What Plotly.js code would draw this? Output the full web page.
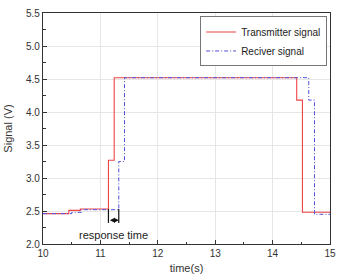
<!DOCTYPE html>
<html><head><meta charset="utf-8">
<script src="https://cdn.plot.ly/plotly-3.0.1.min.js"></script>
<style>html,body{margin:0;padding:0;background:#fff}#c{width:338px;height:274px}</style>
</head><body><div id="c"></div>
<script>
const txTime = [10, 10.45, 10.65, 11.14, 11.24, 14.42, 14.52, 15];
const txSignal = [2.46, 2.51, 2.53, 3.27, 4.52, 4.18, 2.48, 2.47];
const rxTime = [10, 10.5, 10.67, 11.32, 11.42, 14.63, 14.73, 15];
const rxSignal = [2.46, 2.48, 2.52, 3.25, 4.52, 4.18, 2.45, 2.45];
const seriesNames = ["Transmitter signal", "Reciver signal"];
const xTicks = [10, 11, 12, 13, 14, 15];
const yTicks = [2.0, 2.5, 3.0, 3.5, 4.0, 4.5, 5.0, 5.5];

function firstRise(t, s){ for(let i=0;i<s.length;i++){ if(s[i]>3) return t[i]; } return t[0]; }
const rStart = firstRise(txTime, txSignal);
const rEnd = firstRise(rxTime, rxSignal);

const font = "Liberation Sans, Arial, sans-serif";
const traces = [
  {x: txTime, y: txSignal, name: seriesNames[0], mode: "lines", line: {shape: "hv", color: "#ee4646", width: 1.1}},
  {x: rxTime, y: rxSignal, name: seriesNames[1], mode: "lines", line: {shape: "hv", color: "#5050dc", width: 1, dash: "4px,2px,1px,2px"}}
];
const axBase = {showline: true, linecolor: "#333", linewidth: 1.2, mirror: true, ticks: "inside", ticklen: 4, tickcolor: "#333",
  showgrid: true, gridcolor: "#e6e6e6", gridwidth: 1, zeroline: false, tickfont: {family: font, size: 10, color: "#333"},
  minor: {ticks: "inside", ticklen: 2.5, tickcolor: "#333", showgrid: false}};
const layout = {
  width: 338, height: 274, margin: {l: 43, r: 8, t: 13, b: 30},
  paper_bgcolor: "#fff", plot_bgcolor: "#fff", font: {family: font, color: "#333"},
  xaxis: Object.assign({}, axBase, {range: [10, 15], tickvals: xTicks, ticktext: xTicks.map(String),
    minor: Object.assign({}, axBase.minor, {dtick: 0.5, tick0: 10}),
    title: {text: "time(s)", font: {family: font, size: 11, color: "#333"}, standoff: 8}}),
  yaxis: Object.assign({}, axBase, {range: [2.0, 5.5], tickvals: yTicks, ticktext: yTicks.map(v => v.toFixed(1)),
    minor: Object.assign({}, axBase.minor, {dtick: 0.25, tick0: 2}),
    title: {text: "Signal (V)", font: {family: font, size: 11, color: "#333"}, standoff: 11}}),
  legend: {x: 0.99, y: 0.985, xanchor: "right", yanchor: "top", bgcolor: "#fff", bordercolor: "#777", borderwidth: 1,
    font: {family: font, size: 10, color: "#222"}, tracegroupgap: 0, itemwidth: 30},
  showlegend: true,
  shapes: [
    {type: "line", xref: "x", yref: "y", x0: rStart, x1: rStart, y0: 2.53, y1: 2.32, line: {color: "#111", width: 1.2}},
    {type: "line", xref: "x", yref: "y", x0: rEnd, x1: rEnd, y0: 2.53, y1: 2.32, line: {color: "#111", width: 1.2}}
  ],
  annotations: [
    {x: rEnd, y: 2.36, ax: rStart, ay: 2.36, xref: "x", yref: "y", axref: "x", ayref: "y", text: "", showarrow: true,
      arrowhead: 2, startarrowhead: 2, arrowside: "end+start", arrowsize: 0.8, arrowwidth: 1.2, arrowcolor: "#111"},
    {x: (rStart + rEnd) / 2, y: 2.13, xref: "x", yref: "y", text: "response time", showarrow: false,
      font: {family: font, size: 11, color: "#222"}}
  ]
};
Plotly.newPlot("c", traces, layout, {displayModeBar: false, staticPlot: true});
</script></body></html>
